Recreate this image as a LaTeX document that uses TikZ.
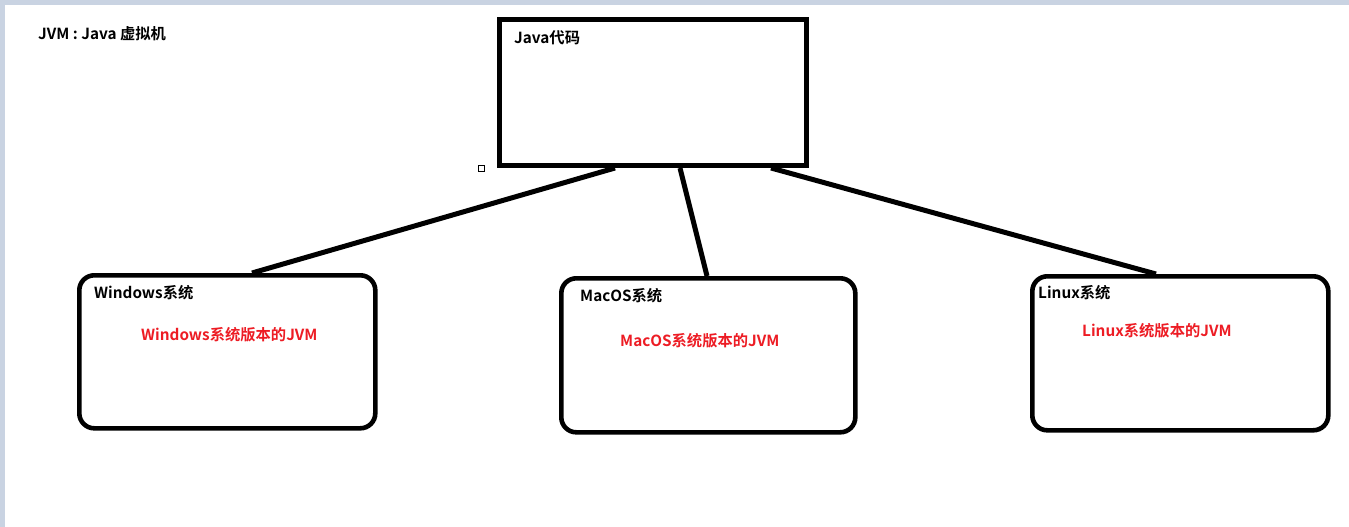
\documentclass[tikz,border=0pt]{standalone}
\usepackage{fontspec}
\setmainfont{Noto Sans CJK SC}[BoldFont={Noto Sans CJK SC Bold}]
\definecolor{paintbg}{RGB}{201,211,226}
\definecolor{paintred}{RGB}{237,28,36}
\tikzset{
  box/.style={draw=black, line width=5pt, inner sep=0pt, anchor=north west},
  rbox/.style={box, line width=4.6pt, rounded corners=15pt},
  conn/.style={draw=black, line width=5pt},
  lbl/.style={inner sep=0pt, anchor=base west, font=\fontsize{15.3}{17}\selectfont\bfseries},
  redlbl/.style={lbl, text=paintred}
}
\begin{document}
\begin{tikzpicture}[x=1pt,y=-1pt]
\useasboundingbox (0,0) rectangle (1349,527);
\fill[white] (0,0) rectangle (1349,527);
\fill[paintbg] (0,0) rectangle (1349,5);
\fill[paintbg] (0,0) rectangle (5,527);

\node[lbl] (title) at (38,40) {JVM : Java 虚拟机};

\node[box, minimum width=307pt, minimum height=146pt] (java) at (497,17) {};
\node[lbl] (javat) at (514,44) {Java代码};

\node[draw=black, line width=1pt, minimum size=6pt, inner sep=0pt] (sq) at (481,168) {};

\node[rbox, minimum width=296pt, minimum height=153pt] (win) at (77,273) {};
\node[rbox, minimum width=294pt, minimum height=154pt] (mac) at (559,276) {};
\node[rbox, minimum width=296pt, minimum height=154pt] (lin) at (1030,274) {};

\node[lbl] (wint) at (94,298) {Windows系统};
\node[redlbl] (winr) at (141,340) {Windows系统版本的JVM};
\node[lbl] (mact) at (580,301) {MacOS系统};
\node[redlbl] (macr) at (620,346) {MacOS系统版本的JVM};
\node[lbl] (lint) at (1038,298) {Linux系统};
\node[redlbl] (linr) at (1082,336) {Linux系统版本的JVM};

\draw[conn] ([xshift=118pt]java.south west) -- ([xshift=175pt]win.north west);
\draw[conn] ([xshift=183pt]java.south west) -- ([xshift=148pt]mac.north west);
\draw[conn] ([xshift=274pt]java.south west) -- ([xshift=126pt]lin.north west);
\end{tikzpicture}
\end{document}
